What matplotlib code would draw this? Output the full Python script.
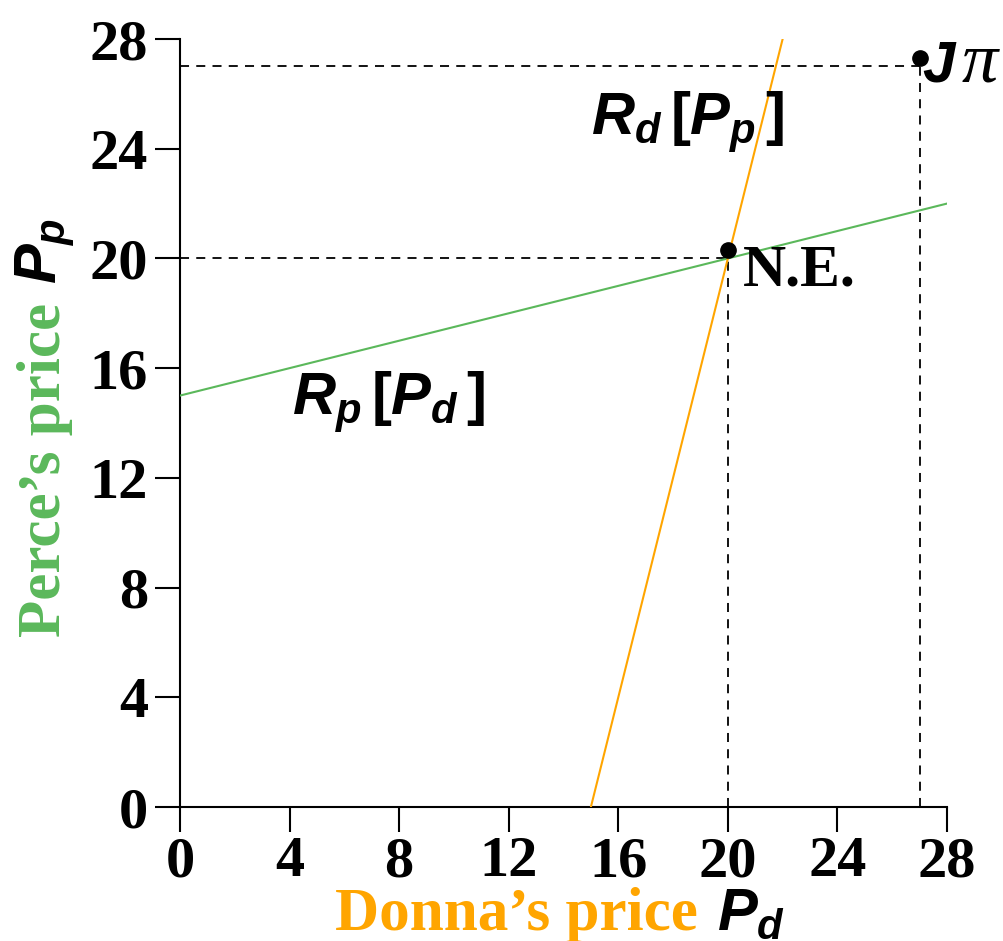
import matplotlib
matplotlib.use("Agg")
import matplotlib.pyplot as plt
import numpy as np

# reaction curves: endpoints
rp_pd = [0, 28]        # Donna's price along Perce's reaction curve
rp_pp = [15, 22]       # Perce's price
rd_pd = [15, 22]       # Donna's reaction curve
rd_pp = [0, 28]

ne_pt = (20, 20)       # Nash equilibrium
ne_dot = (20, 20.3)
jp_pt = (27, 27)       # joint profit maximum
jp_dot = (27, 27.3)

ticks = [0, 4, 8, 12, 16, 20, 24, 28]

GREEN = "#5bb85b"
ORANGE = "#ffa500"

plt.rcParams["mathtext.fontset"] = "custom"
plt.rcParams["mathtext.it"] = "Liberation Sans:bold:italic"
plt.rcParams["mathtext.rm"] = "Liberation Sans:bold"
plt.rcParams["mathtext.bf"] = "Liberation Sans:bold"

W, H = 1004, 941
fig = plt.figure(figsize=(W / 100, H / 100), dpi=100)
ax = fig.add_axes([180 / W, 1 - 807 / H, (947 - 180) / W, (807 - 39) / H])


def fx(px):
    return px / W


def fy(py):
    return 1 - py / H


ax.plot(rp_pd, rp_pp, color=GREEN, lw=1.5, zorder=3)
ax.plot(rd_pd, rd_pp, color=ORANGE, lw=1.5, zorder=3)

dash = (0, (5, 4))
for x, y in (ne_pt, jp_pt):
    ax.plot([0, x], [y, y], color="black", lw=1.3, linestyle=dash, zorder=2)
    ax.plot([x, x], [0, y], color="black", lw=1.3, linestyle=dash, zorder=2)

ax.plot([ne_dot[0], jp_dot[0]], [ne_dot[1], jp_dot[1]], "o", color="black",
        markersize=11, linestyle="none", zorder=4, clip_on=False)

ax.set_xlim(0, 28)
ax.set_ylim(0, 28)
ax.set_xticks(ticks)
ax.set_yticks(ticks)
ax.spines["top"].set_visible(False)
ax.spines["right"].set_visible(False)
for s in ("left", "bottom"):
    ax.spines[s].set_linewidth(1.5)
ax.tick_params(length=18, width=1.5, direction="out", pad=5)
ax.tick_params(axis="x", pad=3)
for lab in ax.get_xticklabels() + ax.get_yticklabels():
    lab.set_fontfamily("Liberation Serif")
    lab.set_fontweight("bold")
    lab.set_fontsize(42)

# curve labels
ax.text(15.0, 24.5, r"$R_d\,[P_p\,]$", fontsize=43, color="black",
        ha="left", va="baseline")
ax.text(4.1, 14.3, r"$R_p\,[P_d\,]$", fontsize=43, color="black",
        ha="left", va="baseline")

# point labels
fig.text(fx(743), fy(285), "N.E.", fontfamily="Liberation Serif",
         fontweight="bold", fontsize=43, ha="left", va="baseline")
fig.text(fx(922), fy(82), "J", fontfamily="Liberation Sans", fontweight="bold",
         fontstyle="italic", fontsize=42, ha="left", va="baseline")
fig.text(fx(962), fy(82), "\u03c0", fontfamily="Liberation Serif",
         fontstyle="italic", fontsize=52, ha="left", va="baseline")

# axis titles
fig.text(fx(335), fy(930), "Donna\u2019s price", fontfamily="Liberation Serif",
         fontweight="bold", fontsize=44, color=ORANGE, ha="left", va="baseline")
fig.text(fx(717), fy(930), r"$P_d$", fontsize=43, color="black",
         ha="left", va="baseline")
fig.text(fx(60), fy(637), "Perce\u2019s price", fontfamily="Liberation Serif",
         fontweight="bold", fontsize=44, color=GREEN, rotation=90,
         rotation_mode="anchor", ha="left", va="baseline")
fig.text(fx(57), fy(284), r"$P_p$", fontsize=43, color="black", rotation=90,
         rotation_mode="anchor", ha="left", va="baseline")

fig.savefig("out.png", dpi=100)
